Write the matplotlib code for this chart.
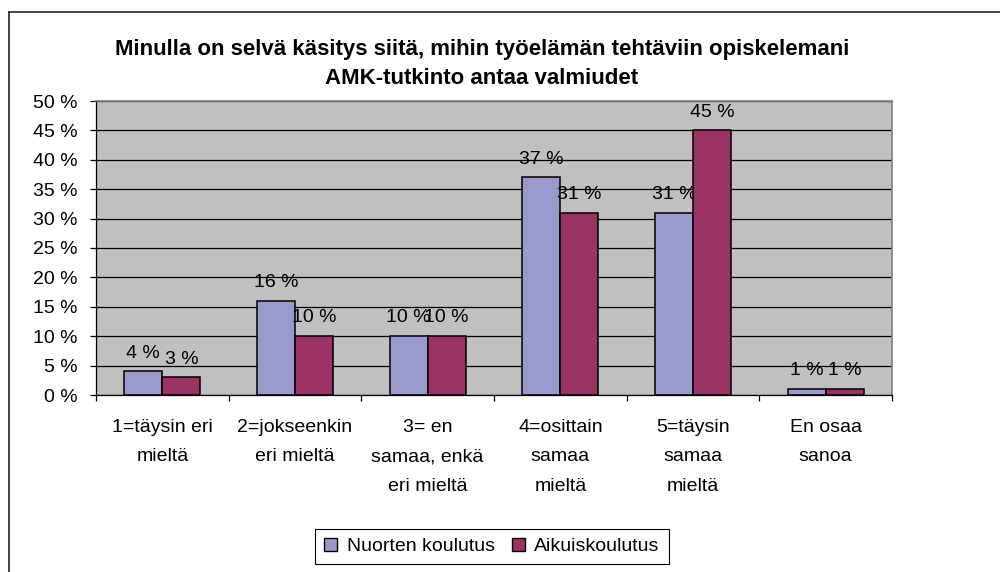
"""Grouped bar chart: AMK-tutkinnon valmiudet, nuorten vs. aikuiskoulutus."""

import matplotlib

matplotlib.use("Agg")
import matplotlib.pyplot as plt
import numpy as np
from matplotlib.lines import Line2D
from matplotlib.patches import Patch

plt.rcParams["font.family"] = ["Liberation Sans", "DejaVu Sans"]

TITLE = (
    "Minulla on selvä käsitys siitä, mihin työelämän tehtäviin opiskelemani\n"
    "AMK-tutkinto antaa valmiudet"
)
categories = [
    "1=täysin eri\nmieltä",
    "2=jokseenkin\neri mieltä",
    "3= en\nsamaa, enkä\neri mieltä",
    "4=osittain\nsamaa\nmieltä",
    "5=täysin\nsamaa\nmieltä",
    "En osaa\nsanoa",
]
series_names = ["Nuorten koulutus", "Aikuiskoulutus"]
nuorten = [4, 16, 10, 37, 31, 1]
aikuis = [3, 10, 10, 31, 45, 1]
y_ticks = [0, 5, 10, 15, 20, 25, 30, 35, 40, 45, 50]

COLORS = ["#9999CC", "#993366"]
FS = 14

fig = plt.figure(figsize=(10, 5.72), dpi=100)
ax = fig.add_axes([0.096, 1 - 395 / 572, 0.796, 294 / 572])
ax.set_facecolor("#C0C0C0")

x = np.arange(len(categories))
w = 0.287
for offset, values, color in [(-w / 2, nuorten, COLORS[0]), (w / 2, aikuis, COLORS[1])]:
    bars = ax.bar(x + offset, values, w, color=color, edgecolor="black",
                  linewidth=1.1, zorder=3)
    for bar, v in zip(bars, values):
        ax.annotate(f"{v} %", (bar.get_x() + bar.get_width() / 2, v),
                    xytext=(0, 7), textcoords="offset points",
                    ha="center", va="bottom", fontsize=FS)

ax.set_xlim(-0.5, len(categories) - 0.5)
ax.set_ylim(0, 50)
ax.set_yticks(y_ticks)
ax.set_yticklabels([f"{v} %" for v in y_ticks], fontsize=FS)
ax.yaxis.grid(True, color="black", linewidth=0.9, zorder=0)
ax.set_axisbelow(True)

ax.set_xticks(x)
ax.set_xticklabels(categories, fontsize=FS, linespacing=1.98, va="top")
ax.set_xticks(np.arange(-0.5, len(categories)), minor=True)
ax.tick_params(axis="x", which="major", length=0, pad=17)
ax.tick_params(axis="x", which="minor", length=4.5, width=0.9, direction="out")
ax.tick_params(axis="y", length=4.5, width=0.9, direction="out", pad=9)

for side in ["top", "right"]:
    ax.spines[side].set_color("#808080")
    ax.spines[side].set_linewidth(1.2)
for side in ["left", "bottom"]:
    ax.spines[side].set_color("black")
    ax.spines[side].set_linewidth(0.9)

fig.text(0.482, 1 - 64 / 572, TITLE, ha="center", va="center",
         fontsize=16, fontweight="bold", linespacing=1.55)

# outer chart frame, only the top and left edges fall inside the picture
fig.add_artist(Line2D([8.5 / 1000, 8.5 / 1000], [0, 1 - 11.5 / 572],
                      transform=fig.transFigure, color="#222222", linewidth=1.2))
fig.add_artist(Line2D([8.5 / 1000, 1], [1 - 11.5 / 572, 1 - 11.5 / 572],
                      transform=fig.transFigure, color="#222222", linewidth=1.2))

handles = [Patch(facecolor=c, edgecolor="black", linewidth=1.0) for c in COLORS]
leg = fig.legend(handles, series_names, loc="upper center",
                 bbox_to_anchor=(0.492, 1 - 529 / 572), ncol=2, fontsize=FS,
                 frameon=True, fancybox=False, edgecolor="black", framealpha=1,
                 handlelength=0.65, handleheight=0.65, handletextpad=0.5,
                 columnspacing=0.9, borderpad=0.45, borderaxespad=0)
leg.get_frame().set_linewidth(0.8)

fig.savefig("out.png", dpi=100)
